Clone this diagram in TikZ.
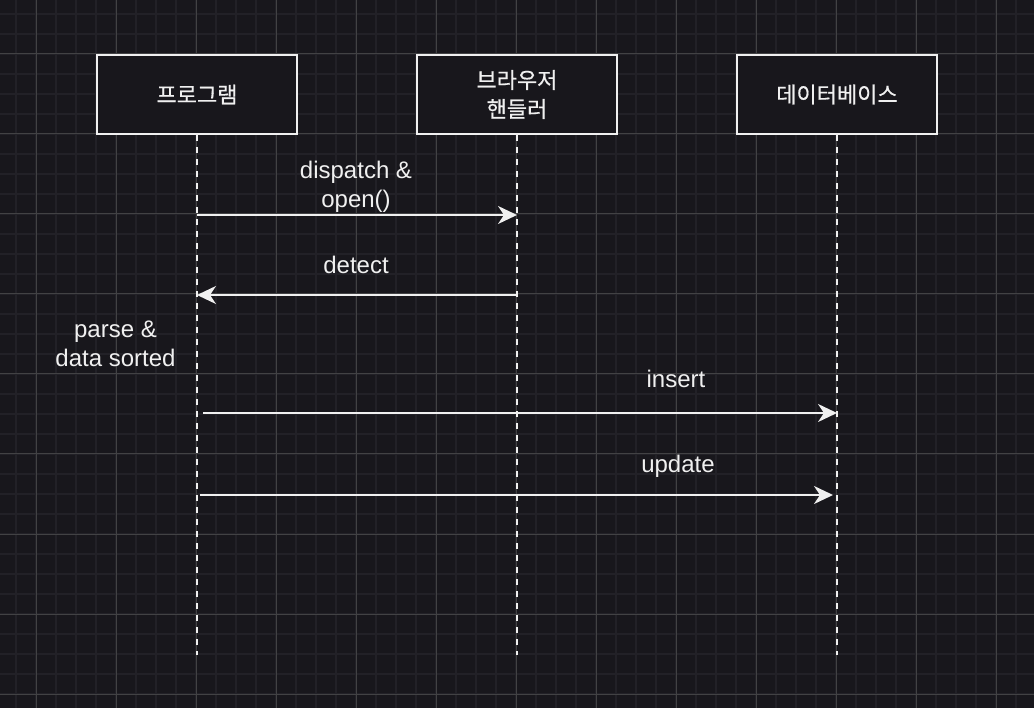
\documentclass[tikz,border=0pt]{standalone}
\usepackage{fontspec}
\setmainfont{Liberation Sans}
\newfontfamily\krfont[FakeBold=0.6]{Noto Sans CJK KR}
\usetikzlibrary{arrows.meta}
\definecolor{bgc}{RGB}{24,23,28}
\definecolor{gridminor}{RGB}{34,33,39}
\definecolor{gridmajor}{RGB}{66,66,68}
\definecolor{fg}{RGB}{240,240,240}
\tikzset{
  partbox/.style={draw=fg, fill=bgc, line width=2pt, minimum width=200pt, minimum height=79pt,
    inner sep=0pt, align=center, text=fg, font=\krfont\fontsize{22}{29}\selectfont},
  lifeline/.style={draw=fg, line width=2pt, dash pattern=on 6pt off 6pt},
  msg/.style={draw=fg, line width=2pt, -{Stealth[length=19pt,width=18pt,inset=6pt,fill=fg]}},
  msglabel/.style={text=fg, inner sep=0pt, align=center, font=\fontsize{24}{29}\selectfont}
}
\begin{document}
\begin{tikzpicture}[x=1pt,y=-1pt]
\useasboundingbox (0,0) rectangle (1034,708);
\fill[bgc] (0,0) rectangle (1034,708);
% grid
\foreach \x in {16,36,...,1034} \draw[gridminor, line width=1.3pt] (\x,0) -- (\x,708);
\foreach \y in {14,34,...,708} \draw[gridminor, line width=1.3pt] (0,\y) -- (1034,\y);
\foreach \x in {36,116,...,1034} \draw[gridmajor, line width=1pt] (\x,0) -- (\x,708);
\foreach \y in {54,134,...,708} \draw[gridmajor, line width=1pt] (0,\y) -- (1034,\y);
% participants
\node[partbox] (prog) at (197,94.5) {프로그램};
\node[partbox] (brow) at (517,94.5) {브라우저\\핸들러};
\node[partbox] (db) at (837,94.5) {데이터베이스};
% lifeline ends
\coordinate (progend) at (197,655);
\coordinate (browend) at (517,655);
\coordinate (dbend) at (837,655);
\draw[lifeline] (prog.south) -- (progend);
\draw[lifeline] (brow.south) -- (browend);
\draw[lifeline] (db.south) -- (dbend);
% message end points
\coordinate (m1s) at (197,215);
\coordinate (m1e) at (517,215);
\coordinate (m2s) at (517,295);
\coordinate (m2e) at (197,295);
\coordinate (m3s) at (203,413);
\coordinate (m3e) at (837,413);
\coordinate (m4s) at (200,495);
\coordinate (m4e) at (833,495);
\draw[msg] (m1s) -- (m1e);
\draw[msg] (m2s) -- (m2e);
\draw[msg] (m3s) -- (m3e);
\draw[msg] (m4s) -- (m4e);
% labels
\node[msglabel] (l1) at (356,187) {dispatch \&\\open()};
\node[msglabel, anchor=base] (l2) at (356,273.5) {detect};
\node[msglabel] (l5) at (115.5,344) {parse \&\\data sorted};
\node[msglabel, anchor=base] (l3) at (676,387.5) {insert};
\node[msglabel, anchor=base] (l4) at (678,473) {update};
\end{tikzpicture}
\end{document}
